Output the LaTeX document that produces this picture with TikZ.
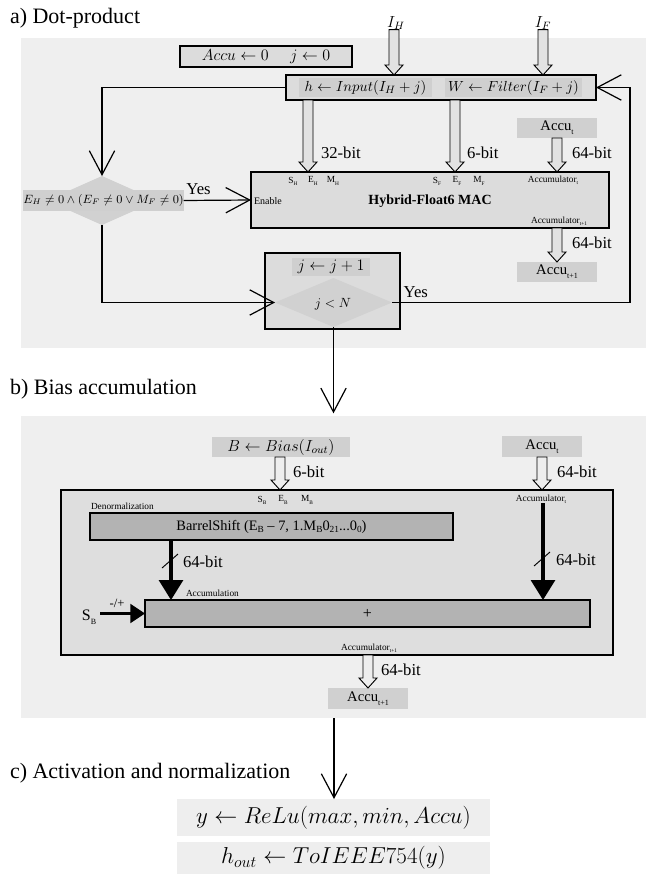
\documentclass[tikz,border=0pt]{standalone}
\usepackage[no-math]{fontspec}
\setmainfont{Liberation Serif}
\usetikzlibrary{arrows.meta,calc,shapes.geometric}

\definecolor{panelc}{HTML}{EFEFEF}
\definecolor{boxc}{HTML}{DCDCDC}
\definecolor{innerc}{HTML}{DEDEDE}
\definecolor{tagc}{HTML}{D0D0D0}
\definecolor{txtbg}{HTML}{CFCFCF}
\definecolor{diac}{HTML}{D1D1D1}
\definecolor{darkc}{HTML}{B3B3B3}
\definecolor{fillA}{HTML}{E2E2E2}
\definecolor{fillB}{HTML}{EEEEEE}
\definecolor{outc}{HTML}{EEEEEE}

% lowered tiny subscripts used by the block labels
\newcommand\lsub[1]{\raisebox{-1.6pt}{\fontsize{4}{4}\selectfont #1}}
\newcommand\bsub[1]{\raisebox{-3pt}{\fontsize{6}{6}\selectfont #1}}
\newcommand\msub[1]{\raisebox{-2.2pt}{\fontsize{7}{7}\selectfont #1}}
\newcommand\fsz[1]{\fontsize{#1}{#1}\selectfont}

% rectangle node given by its corners (x1,y1)-(x2,y2)
\newcommand\boxat[6]{\node[#1, minimum width={(#4-#2)*0.75pt}, minimum height={(#5-#3)*0.75pt}] at ({(#2+#4)/2},{(#3+#5)/2}) #6;}

\begin{document}
\begin{tikzpicture}[x=0.75pt,y=-0.75pt,
  every node/.style={inner sep=0pt, outer sep=0pt},
  panel/.style={fill=panelc},
  frame/.style={draw=black, line width=0.8pt, fill=#1},
  tag/.style={fill=#1},
  title/.style={anchor=west, font=\fsz{16.5}},
  lbl/.style={font=\fsz{12.5}},
  small/.style={font=\fsz{7}},
  vee/.style={line width=0.9pt, -{Straight Barb[length=18pt,width=19pt,line width=0.9pt]}},
  fatarrow/.style={line width=2.3pt, -{Triangle[length=15pt,width=18pt]}},
  sidearrow/.style={line width=2.3pt, -{Triangle[length=11pt,width=14pt]}},
  slash/.style={line width=0.7pt},
  hollow/.style={draw=black, line width=0.7pt, fill=#1, to path={
    ($(\tikztostart)+(-5,0)$) -- ($(\tikztostart |- \tikztotarget)+(-5,-10)$)
    -- ($(\tikztostart |- \tikztotarget)+(-9,-10)$) -- (\tikztostart |- \tikztotarget)
    -- ($(\tikztostart |- \tikztotarget)+(9,-10)$) -- ($(\tikztostart |- \tikztotarget)+(5,-10)$)
    -- ($(\tikztostart)+(5,0)$) -- cycle}},
]
\useasboundingbox (0,0) rectangle (654,874);

% ---------------- a) Dot-product ----------------
\node[title] (ta) at (10,18) {a) Dot-product};
\boxat{panel}{21}{38}{646}{348}{(pa) {}}

\boxat{frame=boxc}{180}{46}{352}{67}{(init) {\fsz{11.5}$Accu \leftarrow 0\hspace{1.4em} j \leftarrow 0$}}

\node[font=\fsz{12}] (IH) at (396,23) {$I_H$};
\node[font=\fsz{12}] (IF) at (543,23) {$I_F$};

\boxat{frame=boxc}{286}{75}{596}{100}{(ld) {}}
\boxat{tag=txtbg}{299}{78}{432}{97}{(hb) {\fsz{11}$h \leftarrow Input(I_H + j)$}}
\boxat{tag=txtbg}{445}{78}{582}{97}{(wb) {\fsz{11}$W \leftarrow Filter(I_F + j)$}}

\coordinate (xH) at (394,0);
\coordinate (xF) at (543,0);
\draw[hollow=fillA] (IH.south -| xH) to (ld.north -| xH);
\draw[hollow=fillA] (IF.south -| xF) to (ld.north -| xF);

% MAC unit
\boxat{frame=boxc}{251}{172}{609}{228}{(mac) {}}
\node[font=\fsz{7.5}, anchor=west] (en) at (254,201) {Enable};
\node[small] (SH) at (293,181) {S\lsub{H}};
\node[small] (EH) at (313,181) {E\lsub{H}};
\node[small] (MH) at (333,181) {M\lsub{H}};
\node[small] (SF) at (437,181) {S\lsub{F}};
\node[small] (EF) at (457,181) {E\lsub{F}};
\node[small] (MF) at (479,181) {M\lsub{F}};
\node[small] (acct) at (553,180) {Accumulator\lsub{t}};
\node[font=\fsz{10.5}\bfseries] (macname) at (430,201) {Hybrid-Float6 MAC};
\node[small] (acct1) at (559,221) {Accumulator\lsub{t+1}};

\coordinate (x32) at (308,0);
\coordinate (x6) at (455,0);
\draw[hollow=fillA] (ld.south -| x32) to (mac.north -| x32);
\draw[hollow=fillA] (ld.south -| x6) to (mac.north -| x6);
\node[lbl, anchor=west] at (321,153) {32-bit};
\node[lbl, anchor=west] at (467,153) {6-bit};

\boxat{tag=tagc}{517}{118}{597}{138}{(at1) {\fsz{11}Accu\bsub{t}}}
\boxat{tag=tagc}{517}{262}{597}{282}{(at2) {\fsz{11}Accu\bsub{t+1}}}
\draw[hollow=fillA] (at1.south) to (mac.north -| at1.south);
\draw[hollow=fillA] (mac.south -| at2.north) to (at2.north);
\node[lbl, anchor=west] at (572,153) {64-bit};
\node[lbl, anchor=west] at (572,243) {64-bit};

% condition test
\node[diamond, fill=diac, minimum width={110*0.75pt}, minimum height={49*0.75pt}] (cond) at (102,200.5) {};
\boxat{tag=txtbg}{29}{190}{178}{211}{(ct) {\fsz{8.6}$E_H \neq 0 \wedge (E_F \neq 0 \vee M_F \neq 0)$}}

% loop counter
\boxat{frame=boxc}{265}{253}{400}{329}{(jb) {}}
\boxat{tag=txtbg}{292}{258}{370}{276}{(jinc) {\fsz{12}$j \leftarrow j + 1$}}
\node[diamond, fill=diac, minimum width={117*0.75pt}, minimum height={49*0.75pt}] (jd) at (333.5,302.5) {};
\node[font=\fsz{10}] (jlt) at (333,304) {$j < N$};

\draw[vee] (ld.west) -| (cond.north);
\draw[vee] (ct.east) -- node[lbl, pos=0.22, above=4pt] {Yes} (mac.west);
\draw[vee] (cond.south) |- (jd.west);
\coordinate (rt) at (630,87.5);
\draw[vee] (jd.east) -| node[lbl, pos=0.05, above=4pt] {Yes} (rt) -- (ld.east);

% ---------------- b) Bias accumulation ----------------
\node[title] (tb) at (10,389) {b) Bias accumulation};
\boxat{panel}{21}{416}{646}{718}{(pb) {}}
\draw[vee, shorten >=2pt] (jd.south) -- (jd.south |- pb.north);

\boxat{tag=tagc}{212}{437}{350}{457}{(bias) {\fsz{12}$B \leftarrow Bias(I_{out})$}}
\boxat{tag=tagc}{502}{436}{582}{457}{(at3) {\fsz{11}Accu\bsub{t}}}

\boxat{frame=innerc}{61}{490}{613}{655}{(ib) {}}
\coordinate (xB) at (280,0);
\draw[hollow=fillB] (bias.south -| xB) to (ib.north -| xB);
\draw[hollow=fillB] (at3.south) to (ib.north -| at3.south);
\node[lbl, anchor=west] at (293,472) {6-bit};
\node[lbl, anchor=west] at (557,472) {64-bit};

\node[small] (SBt) at (262,500) {S\lsub{B}};
\node[small] (EBt) at (283,500) {E\lsub{B}};
\node[small] (MBt) at (307,500) {M\lsub{B}};
\node[small, anchor=west] (den) at (91,506) {Denormalization};
\node[small] (at4) at (541,499) {Accumulator\lsub{t}};

\boxat{frame=darkc}{90}{513}{453}{540}{(bs) {\fsz{10.8}BarrelShift (E\msub{B} – 7, 1.M\msub{B}0\msub{21}...0\msub{0})}}

\node[small, anchor=west] (accl) at (186,593) {Accumulation};
\boxat{frame=darkc}{145}{600}{590}{627}{(acc) {\fsz{12}+}}

\coordinate (lx) at (171,561);
\draw[fatarrow] (bs.south -| lx) -- (acc.north -| lx);
\draw[slash] ($(lx)+(-9,7)$) -- ($(lx)+(7,-7)$);
\node[lbl, anchor=west] at (183,562) {64-bit};

\coordinate (rx) at (543,559);
\draw[fatarrow] (at4.south -| rx) -- (acc.north -| rx);
\draw[slash] ($(rx)+(-9,7)$) -- ($(rx)+(7,-7)$);
\node[lbl, anchor=west] at (556,560) {64-bit};

\node[font=\fsz{12}] (SB) at (89,617) {S\bsub{B}};
\coordinate (sbin) at (100,613.5);
\draw[sidearrow] (sbin) -- (acc.west);
\node[font=\fsz{9.5}] at (117,603) {-/+};

\node[small] (acc1) at (369,648) {Accumulator\lsub{t+1}};
\boxat{tag=tagc}{328}{688}{408}{709}{(at5) {\fsz{11}Accu\bsub{t+1}}}
\draw[hollow=fillB] (ib.south -| at5.north) to (at5.north);
\node[lbl, anchor=west] at (381,670) {64-bit};

% ---------------- c) Activation and normalization ----------------
\node[title] (tc) at (10,773) {c) Activation and normalization};
\boxat{tag=outc}{177}{799}{490}{836}{(relu) {\fsz{17.5}$y \leftarrow ReLu(max, min, Accu)$}}
\boxat{tag=outc}{177}{842}{490}{874}{(ieee) {\fsz{17.5}$h_{out} \leftarrow ToIEEE754(y)$\hspace{14pt}}}
\coordinate (xc) at (334,0);
\draw[vee] (pb.south -| xc) -- (relu.north -| xc);
\end{tikzpicture}
\end{document}
